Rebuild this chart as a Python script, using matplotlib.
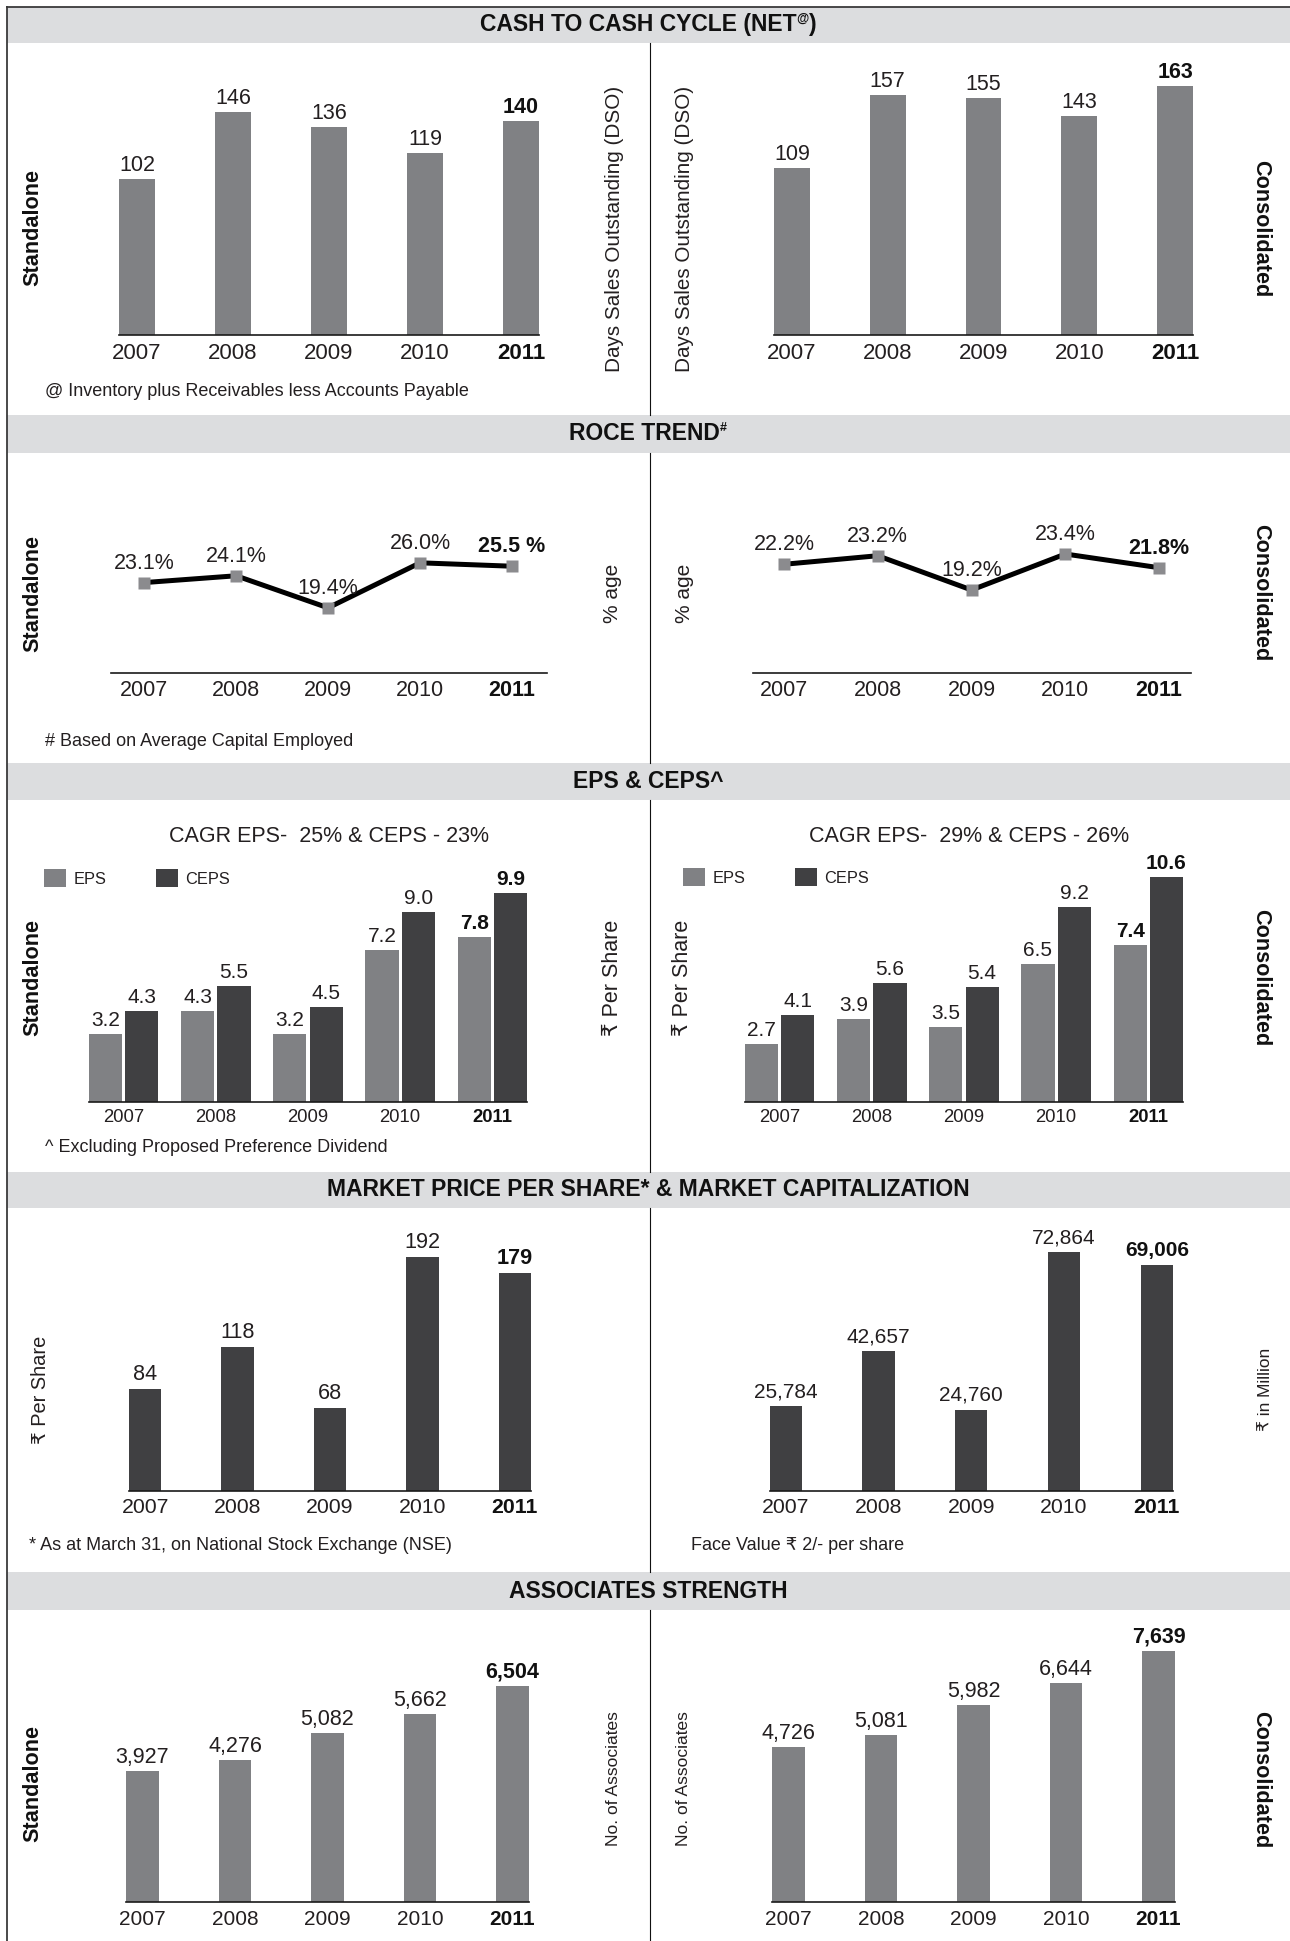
import numpy as np
import matplotlib
matplotlib.use("Agg")
import matplotlib.pyplot as plt
from matplotlib.patches import Rectangle

plt.rcParams['font.family'] = ['Liberation Sans', 'DejaVu Sans']

# ---------------- data ----------------
years = ['2007', '2008', '2009', '2010', '2011']

dso_standalone = [102, 146, 136, 119, 140]
dso_consolidated = [109, 157, 155, 143, 163]

roce_standalone = [23.1, 24.1, 19.4, 26.0, 25.5]
roce_consolidated = [22.2, 23.2, 19.2, 23.4, 21.8]
roce_standalone_unit = ['%', '%', '%', '%', ' %']
roce_consolidated_unit = ['%', '%', '%', '%', '%']

eps_standalone = [3.2, 4.3, 3.2, 7.2, 7.8]
ceps_standalone = [4.3, 5.5, 4.5, 9.0, 9.9]
eps_consolidated = [2.7, 3.9, 3.5, 6.5, 7.4]
ceps_consolidated = [4.1, 5.6, 5.4, 9.2, 10.6]

market_price = [84, 118, 68, 192, 179]
market_cap = [25784, 42657, 24760, 72864, 69006]

associates_standalone = [3927, 4276, 5082, 5662, 6504]
associates_consolidated = [4726, 5081, 5982, 6644, 7639]

section_titles = [
    [("CASH TO CASH CYCLE (NET", 16.5, 0), ("@", 9, -6), (")", 16.5, 0)],
    [("ROCE TREND", 16.5, 0), ("#", 9, -6)],
    [("EPS & CEPS^", 16.5, 0)],
    [("MARKET PRICE PER SHARE* & MARKET CAPITALIZATION", 16.5, 0)],
    [("ASSOCIATES STRENGTH", 16.5, 0)],
]

# ---------------- style ----------------
W, H = 1290, 1941
GREY = '#808184'
DARK = '#404042'
BAND = '#dcdddf'
TXT = '#231f20'
AXIS = '#1a1a1a'

fig = plt.figure(figsize=(W / 100, H / 100), dpi=100)
fig.patch.set_facecolor('white')

ov = fig.add_axes([0, 0, 1, 1])
ov.set_xlim(0, W)
ov.set_ylim(H, 0)
ov.axis('off')
ov.set_zorder(0)

renderer = fig.canvas.get_renderer()

bands = [(7, 43), (415, 453), (763, 800), (1172, 1208), (1572, 1610)]
for y0, y1 in bands:
    ov.add_patch(Rectangle((7, y0), W - 7, y1 - y0, facecolor=BAND, lw=0))

# outer frame (top and left) and middle divider
ov.plot([6.7, 6.7], [6.0, H], color='#3a3a3a', lw=1.3, solid_capstyle='butt')
ov.plot([6.0, W], [6.5, 6.5], color='#3a3a3a', lw=1.3, solid_capstyle='butt')
section_spans = [(43, 415), (453, 763), (800, 1172), (1208, 1572), (1610, H)]
for y0, y1 in section_spans:
    ov.plot([650, 650], [y0, y1], color='#111111', lw=0.8)


def rich_center(cx, cy, pieces):
    texts = []
    for s, size, dy in pieces:
        t = ov.text(0, cy + dy, s, fontsize=size, fontweight='bold',
                    ha='left', va='center', color='#111111')
        texts.append(t)
    widths = [t.get_window_extent(renderer).width for t in texts]
    x = cx - sum(widths) / 2
    for t, w in zip(texts, widths):
        t.set_x(x)
        x += w


for (y0, y1), pieces in zip(bands, section_titles):
    rich_center(648, (y0 + y1) / 2, pieces)


def vlabel(x, y, s, size, bold=False, rot=90):
    ov.text(x, y, s, fontsize=size, fontweight='bold' if bold else 'normal',
            rotation=rot, ha='center', va='center', color=TXT if not bold else '#111111')


def note(x, y, s, size=13):
    ov.text(x, y, s, fontsize=size, ha='left', va='center', color=TXT)


def make_axes(x0, x1, base, top):
    ax = fig.add_axes([x0 / W, 1 - base / H, (x1 - x0) / W, (base - top) / H])
    ax.patch.set_visible(False)
    ax.set_zorder(1)
    for s in ('top', 'left', 'right'):
        ax.spines[s].set_visible(False)
    ax.spines['bottom'].set_color(AXIS)
    ax.spines['bottom'].set_linewidth(1.2)
    ax.set_yticks([])
    return ax


def set_years(ax, tick_size, pad):
    pos = np.arange(len(years))
    ax.set_xticks(pos, years)
    ax.tick_params(axis='x', length=0, pad=pad, labelsize=tick_size, labelcolor=TXT)
    for i, lab in enumerate(ax.get_xticklabels()):
        if i == len(years) - 1:
            lab.set_fontweight('bold')
            lab.set_color('#111111')


def value_label(ax, x, v, text, size, bold, gap_px):
    ax.annotate(text, (x, v), xytext=(0, gap_px * 0.72), textcoords='offset points',
                ha='center', va='baseline', fontsize=size,
                fontweight='bold' if bold else 'normal',
                color='#111111' if bold else TXT)


def bar_panel(x0, x1, base, top, values, ppu, bw, color, fmt,
              tick_size=15.5, label_size=15.5, pad=5.5, gap=8):
    ax = make_axes(x0, x1, base, top)
    pos = np.arange(len(values))
    ax.bar(pos, values, width=bw, color=color, lw=0)
    ax.set_xlim(-bw / 2, len(values) - 1 + bw / 2)
    ax.set_ylim(0, (base - top) / ppu)
    set_years(ax, tick_size, pad)
    for i, v in enumerate(values):
        value_label(ax, i, v, fmt(v), label_size, i == len(values) - 1, gap)
    return ax


def line_panel(x0, x1, base, top, values, units, ppu, ybase, xl, xr):
    ax = make_axes(x0, x1, base, top)
    pos = np.arange(len(values))
    ax.plot(pos, values, color='black', lw=3.6, solid_joinstyle='miter',
            marker='s', ms=9, mfc='#8b8b8e', mec='none')
    ax.set_xlim(xl, xr)
    ax.set_ylim(ybase, ybase + (base - top) / ppu)
    set_years(ax, 15.5, 5)
    for i, v in enumerate(values):
        value_label(ax, i, v, f"{v:.1f}{units[i]}", 15.5, i == len(values) - 1, 14)
    return ax


def pair_panel(x0, x1, base, top, eps, ceps, ppu):
    bw, off = 0.36, 0.197
    ax = make_axes(x0, x1, base, top)
    pos = np.arange(len(eps))
    b1 = ax.bar(pos - off, eps, width=bw, color=GREY, lw=0, label='EPS')
    b2 = ax.bar(pos + off, ceps, width=bw, color=DARK, lw=0, label='CEPS')
    ax.set_xlim(-off - bw / 2, len(eps) - 1 + off + bw / 2)
    ax.set_ylim(0, (base - top) / ppu)
    set_years(ax, 13.3, 5)
    last = len(eps) - 1
    for i in range(len(eps)):
        value_label(ax, i - off, eps[i], f"{eps[i]:.1f}", 15, i == last, 8)
        value_label(ax, i + off, ceps[i], f"{ceps[i]:.1f}", 15, i == last, 8)
    return ax, b1, b2


def legend_at(ax, handles, x, y):
    ax.legend(handles=handles, loc='upper left', bbox_to_anchor=(x / W, 1 - y / H),
              bbox_transform=fig.transFigure, ncol=2, frameon=False, borderpad=0,
              borderaxespad=0, fontsize=11.8, handlelength=1.35, handleheight=1.35,
              handletextpad=0.45, columnspacing=3.0, labelcolor=TXT)


# ---------------- cash to cash cycle ----------------
bar_panel(119, 539, 335, 60, dso_standalone, 1.53, 0.375, GREY, lambda v: f"{v}",
          tick_size=16, label_size=15.5, pad=6, gap=8)
bar_panel(774, 1193, 335, 60, dso_consolidated, 1.53, 0.375, GREY, lambda v: f"{v}",
          tick_size=16, label_size=15.5, pad=6, gap=8)
vlabel(33, 228, "Standalone", 15.6, bold=True)
vlabel(1261, 229, "Consolidated", 15.6, bold=True, rot=270)
vlabel(615, 229, "Days Sales Outstanding (DSO)", 14.9)
vlabel(685, 229, "Days Sales Outstanding (DSO)", 14.9)
note(45, 391, "@ Inventory plus Receivables less Accounts Payable")

# ---------------- ROCE trend ----------------
line_panel(111, 547, 673.3, 470, roce_standalone, roce_standalone_unit,
           6.82, 9.8, -0.36, 4.38)
line_panel(753, 1191, 673.3, 470, roce_consolidated, roce_consolidated_unit,
           8.57, 9.48, -0.33, 4.34)
vlabel(33, 593, "Standalone", 15.6, bold=True)
vlabel(1261, 593, "Consolidated", 15.6, bold=True, rot=270)
vlabel(613, 593, "% age", 15)
vlabel(684, 593, "% age", 15)
note(45, 742, "# Based on Average Capital Employed")

# ---------------- EPS & CEPS ----------------
axl, l1, l2 = pair_panel(89, 527, 1101.7, 860, eps_standalone, ceps_standalone, 21.1)
legend_at(axl, [l1, l2], 44, 869)
axr, r1, r2 = pair_panel(745, 1183, 1101.7, 860, eps_consolidated, ceps_consolidated, 21.2)
legend_at(axr, [r1, r2], 683, 868)
ov.text(329, 836, "CAGR EPS-  25% & CEPS - 23%", fontsize=15.5, ha='center', va='center', color=TXT)
ov.text(969, 836, "CAGR EPS-  29% & CEPS - 26%", fontsize=15.5, ha='center', va='center', color=TXT)
vlabel(33, 978, "Standalone", 15.6, bold=True)
vlabel(1261, 978, "Consolidated", 15.6, bold=True, rot=270)
vlabel(613, 978, "\u20b9 Per Share", 15.5)
vlabel(683, 978, "\u20b9 Per Share", 15.5)
note(45, 1148, "^ Excluding Proposed Preference Dividend")

# ---------------- market price & capitalisation ----------------
bar_panel(129, 531, 1491, 1225, market_price, 1.22, 0.35, DARK, lambda v: f"{v}",
          tick_size=15.3, label_size=15.6, pad=5, gap=9)
bar_panel(769.5, 1173, 1491, 1225, market_cap, 1 / 305, 0.35, DARK, lambda v: f"{v:,}",
          tick_size=15.3, label_size=15, pad=5, gap=9)
vlabel(41, 1390, "\u20b9 Per Share", 14.4)
vlabel(1266, 1389, "\u20b9 in Million", 12.4)
note(29, 1546, "* As at March 31, on National Stock Exchange (NSE)")
note(691, 1546, "Face Value \u20b9 2/- per share")

# ---------------- associates strength ----------------
bar_panel(126, 529, 1902, 1625, associates_standalone, 1 / 30.06, 0.356, GREY,
          lambda v: f"{v:,}", tick_size=15, label_size=15.5, pad=5.5, gap=8)
bar_panel(772, 1175, 1902, 1625, associates_consolidated, 1 / 30.4, 0.356, GREY,
          lambda v: f"{v:,}", tick_size=15, label_size=15.5, pad=5.5, gap=8)
vlabel(33, 1784, "Standalone", 15.6, bold=True)
vlabel(1261, 1780, "Consolidated", 15.6, bold=True, rot=270)
vlabel(613, 1779, "No. of Associates", 12.5)
vlabel(683, 1779, "No. of Associates", 12.5)

fig.savefig("out.png", dpi=100, facecolor='white')
